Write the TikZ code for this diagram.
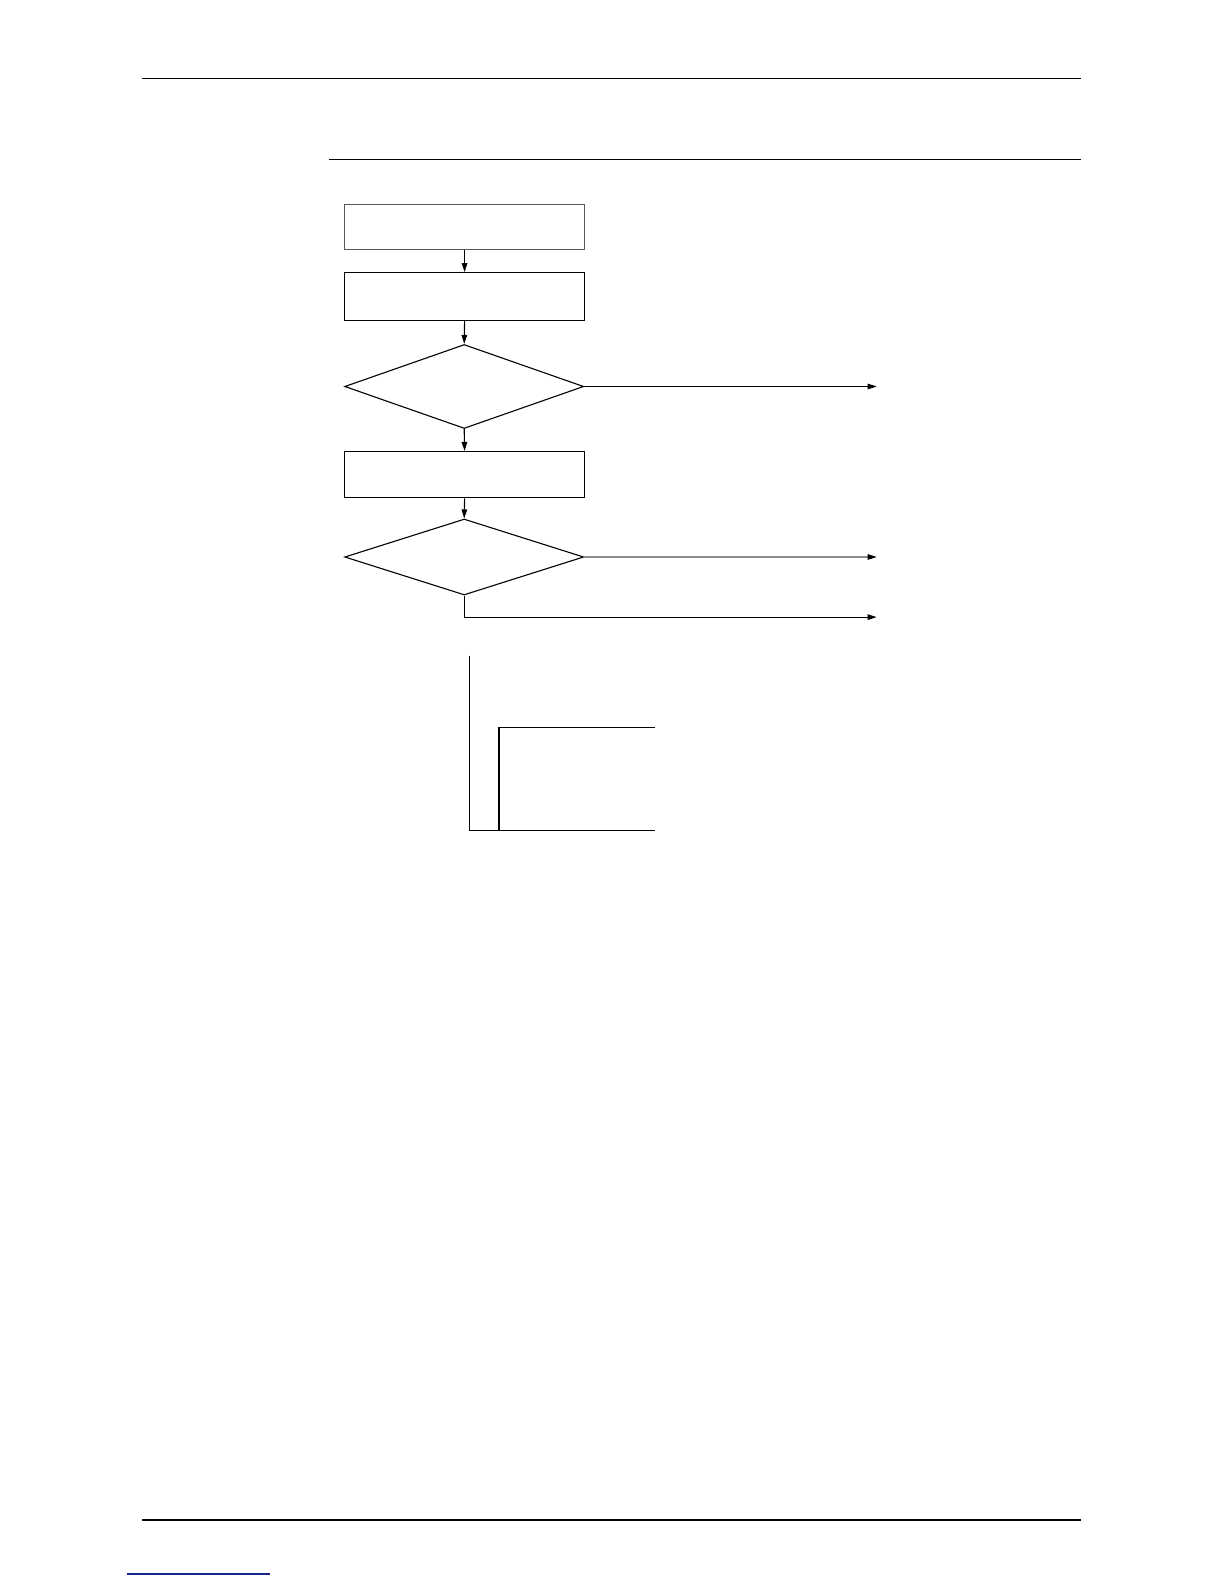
\documentclass[tikz,border=0pt]{standalone}
\usetikzlibrary{shapes.geometric,arrows.meta}
\begin{document}
\begin{tikzpicture}[x=1pt,y=-1pt,
  flowbox/.style={draw=black,line width=1.1pt,rectangle,minimum width=240pt,inner sep=0pt},
  graybox/.style={flowbox,draw=black!65},
  decision/.style={draw=black,line width=1.1pt,diamond,minimum width=239pt,inner sep=0pt},
  flowarrow/.style={line width=1.1pt,-{Triangle[length=9pt,width=5.5pt,color=black]}},
  rule/.style={line width=1.2pt},
  signal/.style={line width=1.3pt}]
\useasboundingbox (0,0) rectangle (1224,1584);
\fill[white] (0,0) rectangle (1224,1584);
% header and footer rules
\coordinate (r1a) at (142.4,78.8); \coordinate (r1b) at (1081,78.8);
\coordinate (r2a) at (329.3,159.6); \coordinate (r2b) at (1081,159.6);
\coordinate (r3a) at (142.4,1520); \coordinate (r3b) at (1081,1520);
\coordinate (la) at (127,1574); \coordinate (lb) at (269.5,1574);
\draw[rule] (r1a) -- (r1b);
\draw[rule] (r2a) -- (r2b);
\draw[rule] (r3a) -- (r3b);
\draw[line width=1.3pt,draw={rgb,255:red,25;green,35;blue,140}] (la) -- (lb);
% flow chart
\node[graybox,minimum height=45.5pt] (b1) at (464.6,226.8) {};
\node[flowbox,minimum height=47.5pt] (b2) at (464.6,296.4) {};
\node[decision,minimum height=84pt] (d1) at (464.2,386.5) {};
\node[flowbox,minimum height=46.4pt] (b3) at (464.6,474.7) {};
\node[decision,minimum height=76pt] (d2) at (464.2,557) {};
\coordinate (e1) at (876.7,386.5);
\coordinate (e2) at (876.7,557);
\coordinate (e3) at (876.7,617.1);
\draw[flowarrow] (b1.south) -- (b2.north);
\draw[flowarrow] (b2.south) -- (d1.north);
\draw[flowarrow] (d1.east) -- (e1);
\draw[flowarrow] (d1.south) -- (b3.north);
\draw[flowarrow] (b3.south) -- (d2.north);
\draw[flowarrow,draw=black!45] (d2.east) -- (e2);
\draw[flowarrow] (d2.south) |- (e3);
% timing chart
\coordinate (t1) at (469.7,655.5);
\coordinate (t2) at (469.7,830.2);
\coordinate (t3) at (654.5,830.2);
\coordinate (t4) at (499,830.2);
\coordinate (t5) at (499,727.2);
\coordinate (t6) at (654.5,727.2);
\draw[signal] (t1) -- (t2) -- (t3);
\draw[signal] (t4) -- (t5) -- (t6);
\end{tikzpicture}
\end{document}
